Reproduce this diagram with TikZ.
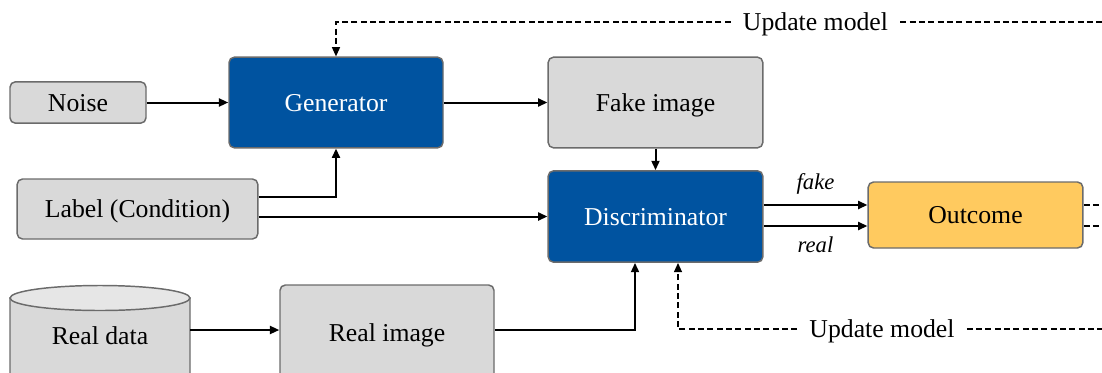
\documentclass[tikz,border=0pt]{standalone}
\usepackage{fontspec}
\setmainfont{Liberation Serif}
\usetikzlibrary{arrows.meta,calc}
\definecolor{boxgray}{HTML}{D9D9D9}
\definecolor{boxedge}{HTML}{6B6B6B}
\definecolor{ganblue}{HTML}{0053A0}
\definecolor{outyellow}{HTML}{FFCA5F}
\definecolor{captop}{HTML}{E6E6E6}
\begin{document}
\begin{tikzpicture}[x=0.75pt,y=-0.75pt,
  font=\fontsize{19.3}{23}\selectfont,
  capcentre/.style={text height=12.8pt,text depth=0pt},
  base/.style={draw=boxedge,line width=1.1pt,rounded corners=4pt,align=center,inner sep=0pt,capcentre},
  graybox/.style={base,fill=boxgray,text=black},
  bluebox/.style={base,fill=ganblue,text=white},
  yellowbox/.style={base,fill=outyellow,text=black},
  flow/.style={line width=1.5pt,-{Triangle[length=7pt,width=6pt]}},
  fb/.style={line width=1.2pt,dash pattern=on 4.5pt off 2.5pt},
  fbarrow/.style={fb,-{Triangle[length=7pt,width=6pt]}},
  tag/.style={font=\fontsize{17}{20}\selectfont\itshape},
  upd/.style={inner xsep=9pt,inner ysep=2pt,capcentre}]
\useasboundingbox (0,0) rectangle (1102,372);
\clip (0,0) rectangle (1102,372);

% boxes
\node[graybox,minimum width=102pt,minimum height=31pt] (noise) at (78,102.5) {Noise};
\node[bluebox,minimum width=160.5pt,minimum height=68pt] (gen) at (336,102.5) {Generator};
\node[graybox,minimum width=161pt,minimum height=68pt] (fake) at (655.5,102.5) {Fake image};
\node[graybox,minimum width=180.5pt,minimum height=45pt] (lab) at (137.5,209) {Label (Condition)};
\node[bluebox,minimum width=161pt,minimum height=68.5pt] (disc) at (655.5,216.5) {Discriminator};
\node[yellowbox,minimum width=161pt,minimum height=49.5pt] (out) at (975.5,215) {Outcome};
\node[graybox,minimum width=160.5pt,minimum height=72pt] (rimg) at (387,333) {Real image};

% database cylinder
\node[minimum width=135pt,minimum height=40pt,inner sep=0pt] (data) at (100,336) {};
\begin{scope}[line width=1.1pt,draw=boxedge]
  \filldraw[fill=boxgray,draw=boxedge] (10,298) -- (10,392) arc[x radius=90,y radius=12,start angle=180,end angle=360] -- (190,298) -- cycle;
  \filldraw[fill=captop,draw=boxedge] (100,298) ellipse[x radius=90,y radius=12.5];
\end{scope}
\node[capcentre] at (data.center) {Real data};

% data flow
\draw[flow] (noise.east) -- (gen.west |- noise.east);
\draw[flow] (gen.east) -- (fake.west);
\draw[flow] (fake.south) -- (disc.north);
\draw[flow] ($(lab.east)+(0,-12)$) -| (gen.south);
\draw[flow] (lab.east |- disc.west) -- (disc.west);
\draw[flow] (data.east |- 0,330) -- (rimg.west |- 0,330);
\draw[flow] (rimg.east |- 0,330) -| ($(disc.south)+(-20.5,0)$);
\draw[flow] ($(disc.east)+(0,-11.5)$) -- ($(out.west)+(0,-10)$) node[tag,midway,above=4pt] {fake};
\draw[flow] ($(disc.east)+(0,9.5)$) -- ($(out.west)+(0,11)$) node[tag,midway,below=4pt] {real};

% feedback
\coordinate (edgeT) at (1102,22);
\coordinate (edgeB) at (1102,329);
\coordinate (outA) at (1102,205);
\coordinate (outB) at (1102,226);
\node[upd] (upd1) at (815.5,22) {Update model};
\node[upd] (upd2) at (882,329) {Update model};
\draw[fbarrow] (upd1.west) -| (gen.north);
\draw[fb] (upd1.east) -- (edgeT);
\draw[fbarrow] (upd2.west) -| ($(disc.south)+(22.5,0)$);
\draw[fb] (upd2.east) -- (edgeB);
\draw[fb] (out.east |- outA) -- (outA);
\draw[fb] (out.east |- outB) -- (outB);
\end{tikzpicture}
\end{document}
